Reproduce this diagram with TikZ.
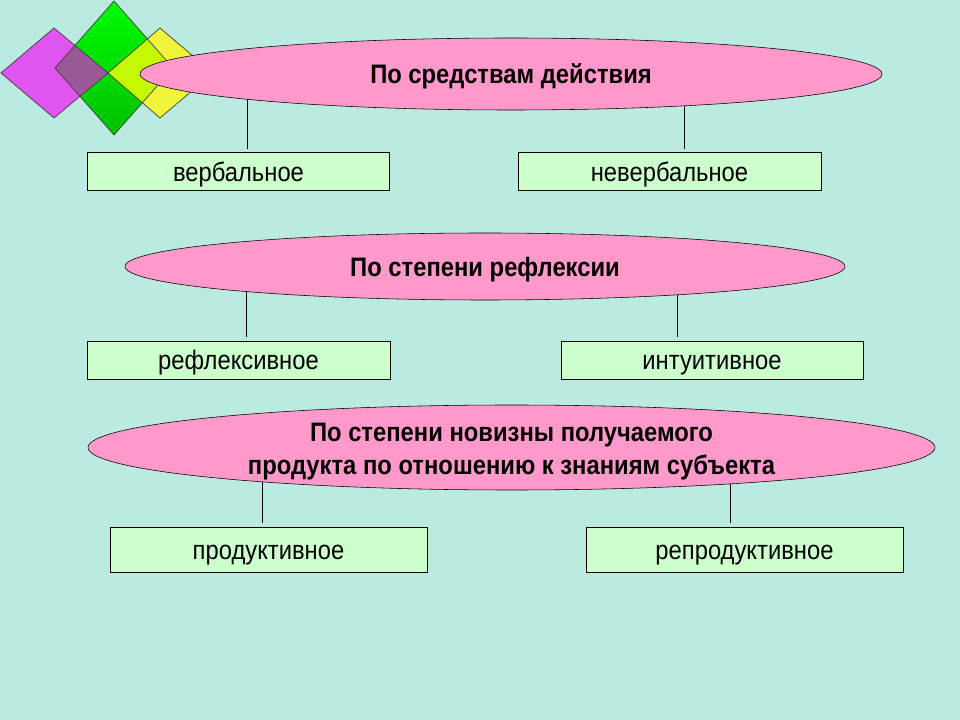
\documentclass[tikz,border=0pt]{standalone}
\usepackage{fontspec}
\setmainfont{Liberation Sans}[FakeStretch=0.89]
\usetikzlibrary{shapes.geometric}
\definecolor{bgcol}{RGB}{187,234,224}
\definecolor{pinkcol}{RGB}{255,153,204}
\definecolor{boxcol}{RGB}{204,255,204}
\definecolor{magcol}{RGB}{224,85,240}
\definecolor{purpcol}{RGB}{154,90,154}
\definecolor{grntop}{RGB}{0,252,0}
\definecolor{grnbot}{RGB}{0,192,0}
\definecolor{limecol}{RGB}{196,250,0}
\definecolor{yelcol}{RGB}{240,245,60}
\begin{document}
\begin{tikzpicture}[x=0.025cm,y=-0.025cm,
    box/.style={draw,fill=boxcol,inner sep=0pt,text height=14.2pt,text depth=0pt,
      font=\fontsize{19}{22}\selectfont},
    oval/.style={draw,fill=pinkcol,ellipse,inner sep=0pt,align=center,
      font=\fontsize{19}{23.5}\selectfont\bfseries},
    edge/.style={draw,line width=0.5pt,black!75}]
  \useasboundingbox (0,0) rectangle (960,720);
  \fill[bgcol] (0,0) rectangle (960,720);

  % diamonds
  \def \Corners {
    m1/1/73, m2/54/28, m3/108/73, m4/54/118,
    g1/55/68, g2/114/1, g3/173/68, g4/114/135,
    y1/108/73, y2/160/28, y3/213/73, y4/160/118}
  \foreach \id / \x / \y in \Corners {
    \coordinate (\id) at (\x, \y);
  }
  \shade[top color=grntop,bottom color=grnbot] (g1) -- (g2) -- (g3) -- (g4) -- cycle;
  \fill[magcol] (m1) -- (m2) -- (m3) -- (m4) -- cycle;
  \fill[yelcol] (y1) -- (y2) -- (y3) -- (y4) -- cycle;
  \begin{scope}
    \clip (m1) -- (m2) -- (m3) -- (m4) -- cycle;
    \fill[purpcol] (g1) -- (g2) -- (g3) -- (g4) -- cycle;
  \end{scope}
  \begin{scope}
    \clip (y1) -- (y2) -- (y3) -- (y4) -- cycle;
    \fill[limecol] (g1) -- (g2) -- (g3) -- (g4) -- cycle;
  \end{scope}
  \foreach \d in {g,m,y} {
    \path[edge] (\d1) -- (\d2) -- (\d3) -- (\d4) -- cycle;
  }

  % boxes
  \def \Boxes {
    b1/238.5/171.5/302/38/вербальное,
    b2/669.5/171.5/303/38/невербальное,
    b3/238.5/360/303/38/рефлексивное,
    b4/712/360/302/38/интуитивное,
    b5/268.5/549.5/317/45/продуктивное,
    b6/744.5/549.5/317/45/репродуктивное}
  \foreach \id / \x / \y / \w / \h / \txt in \Boxes {
    \node[box,minimum width=\w*0.025cm,minimum height=\h*0.025cm] (\id) at (\x, \y) {\txt};
  }

  % connectors
  \def \Links {
    t1/247/74/b1,
    t2/684/74/b2,
    t3/246/267/b3,
    t4/677/267/b4,
    t5/262/447/b5,
    t6/730/447/b6}
  \foreach \id / \x / \y / \b in \Links {
    \coordinate (\id) at (\x, \y);
    \path[draw,line width=0.7pt,shorten >=0.09cm] (\id) -- (\b.north -| \id);
  }

  % ellipses
  \node[oval,text height=14.2pt,text depth=0pt,minimum width=742*0.025cm,minimum height=72*0.025cm]
    (e1) at (511,74) {По средствам действия};
  \node[oval,text height=14.2pt,text depth=0pt,minimum width=720*0.025cm,minimum height=67*0.025cm]
    (e2) at (485,266.5) {По степени рефлексии};
  \node[oval,minimum width=847*0.025cm,minimum height=85*0.025cm,
    label={[align=center,font=\fontsize{19}{23.5}\selectfont\bfseries]center:{\rule{0pt}{19.5pt}По степени новизны получаемого\\продукта по отношению к знаниям субъекта}}]
    (e3) at (511.5,447.5) {};
\end{tikzpicture}
\end{document}
